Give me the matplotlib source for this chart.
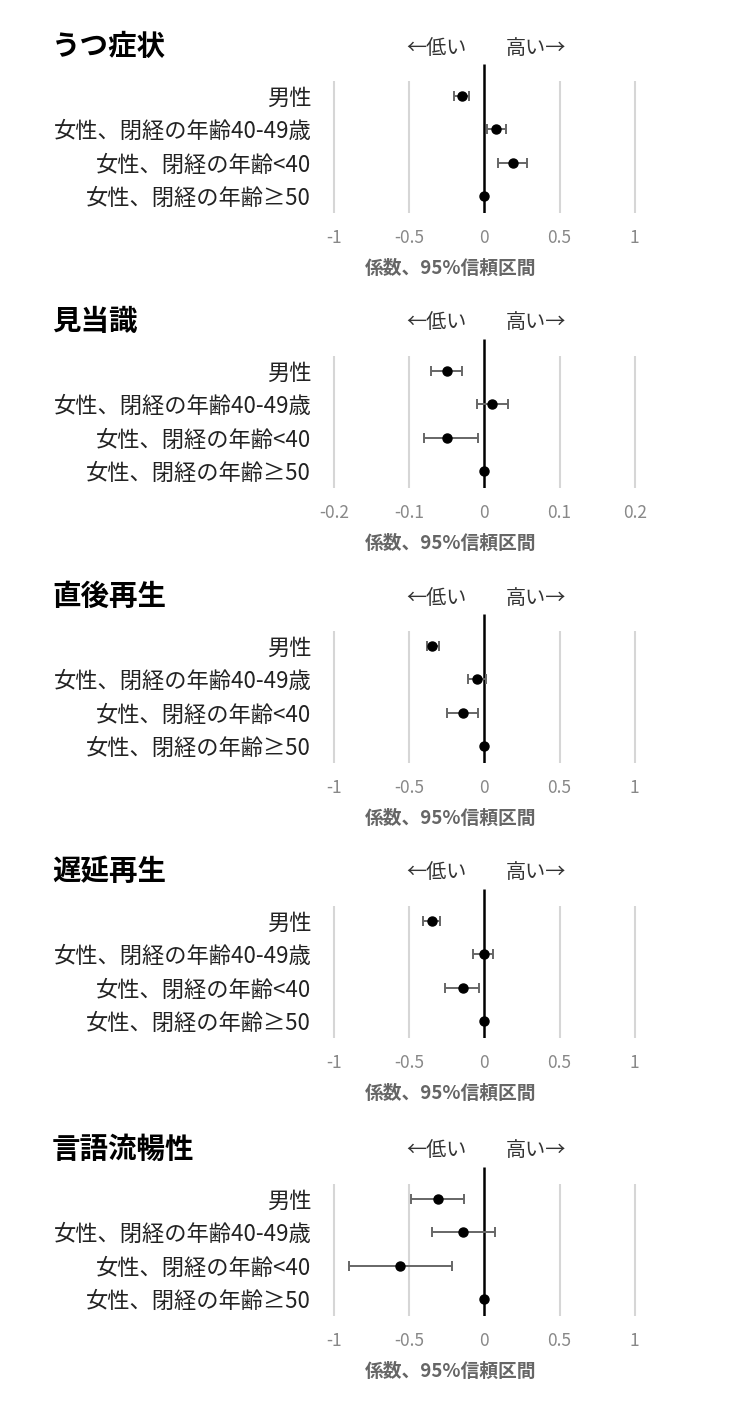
import numpy as np
import matplotlib
matplotlib.use("Agg")
import matplotlib.pyplot as plt

plt.rcParams['font.family'] = ['Noto Sans CJK JP', 'DejaVu Sans']

# categories (top to bottom)
groups = ['男性', '女性、閉経の年齢40-49歳', '女性、閉経の年齢<40', '女性、閉経の年齢≥50']
titles = ['うつ症状', '見当識', '直後再生', '遅延再生', '言語流暢性']

# coefficient, lower and upper 95% CI for each outcome
est_depr = [-0.15, 0.08, 0.19, 0.0]
lo_depr = [-0.20, 0.02, 0.09, 0.0]
hi_depr = [-0.10, 0.145, 0.285, 0.0]

est_orient = [-0.05, 0.01, -0.05, 0.0]
lo_orient = [-0.071, -0.01, -0.08, 0.0]
hi_orient = [-0.029, 0.031, -0.009, 0.0]

est_imm = [-0.345, -0.046, -0.143, 0.0]
lo_imm = [-0.38, -0.107, -0.25, 0.0]
hi_imm = [-0.30, 0.013, -0.04, 0.0]

est_del = [-0.345, 0.0, -0.143, 0.0]
lo_del = [-0.405, -0.077, -0.26, 0.0]
hi_del = [-0.295, 0.057, -0.035, 0.0]

est_flu = [-0.31, -0.14, -0.557, 0.0]
lo_flu = [-0.49, -0.35, -0.90, 0.0]
hi_flu = [-0.135, 0.073, -0.215, 0.0]

ticks_wide = [-1, -0.5, 0, 0.5, 1]
ticklab_wide = ['-1', '-0.5', '0', '0.5', '1']
ticks_narrow = [-0.2, -0.1, 0, 0.1, 0.2]
ticklab_narrow = ['-0.2', '-0.1', '0', '0.1', '0.2']

panels = [
    (est_depr, lo_depr, hi_depr, ticks_wide, ticklab_wide),
    (est_orient, lo_orient, hi_orient, ticks_narrow, ticklab_narrow),
    (est_imm, lo_imm, hi_imm, ticks_wide, ticklab_wide),
    (est_del, lo_del, hi_del, ticks_wide, ticklab_wide),
    (est_flu, lo_flu, hi_flu, ticks_wide, ticklab_wide),
]

W, H = 730, 1402
fig = plt.figure(figsize=(W / 100, H / 100), dpi=100)
fig.patch.set_facecolor('white')

def fy(py):
    return 1 - py / H

title_y = [47, 322, 597, 872, 1150]
rows = np.arange(len(groups))

for k, (est, lo, hi, ticks, ticklab) in enumerate(panels):
    t = title_y[k]
    s = ticks[-1]
    ax = fig.add_axes([329.3 / W, fy(t + 165.7), 310 / W, 148.7 / H])
    ax.set_xlim(-1.03 * s, 1.03 * s)
    ax.set_ylim(3.5, -0.95)

    # light grid lines + zero line
    grid_x = [v for v in ticks if v != 0]
    ax.vlines(grid_x, -0.44, 3.5, color='#d6d6d6', lw=1.5, zorder=1)
    ax.vlines(0, -0.95, 3.5, color='black', lw=1.8, zorder=2)

    est = np.array(est)
    lo = np.array(lo)
    hi = np.array(hi)
    has_ci = hi > lo
    ax.errorbar(est[has_ci], rows[has_ci],
                xerr=[est[has_ci] - lo[has_ci], hi[has_ci] - est[has_ci]],
                fmt='none', ecolor='#666666', elinewidth=1.4, capsize=3.5,
                capthick=1.4, zorder=3)
    ax.plot(est, rows, 'o', color='black', ms=6.5, zorder=4)

    for sp in ax.spines.values():
        sp.set_visible(False)
    ax.set_xticks(ticks)
    ax.set_xticklabels(ticklab)
    ax.set_yticks(rows)
    ax.set_yticklabels(groups)
    ax.tick_params(axis='x', length=0, pad=12, labelsize=12.5, labelcolor='#888888')
    ax.tick_params(axis='y', length=0, pad=13, labelsize=16, labelcolor='#222222')

    fig.text(52 / W, fy(t), titles[k], fontsize=20.5, weight='bold', va='center', ha='left')
    fig.text(436 / W, fy(t + 1), '←低い', fontsize=14.5, va='center', ha='center', color='#333333')
    fig.text(536 / W, fy(t + 1), '高い→', fontsize=14.5, va='center', ha='center', color='#333333')
    fig.text(451 / W, fy(t + 221), '係数、95%信頼区間', fontsize=13.5, weight='bold',
             va='center', ha='center', color='#666666')

fig.savefig('out.png', dpi=100, facecolor='white')
